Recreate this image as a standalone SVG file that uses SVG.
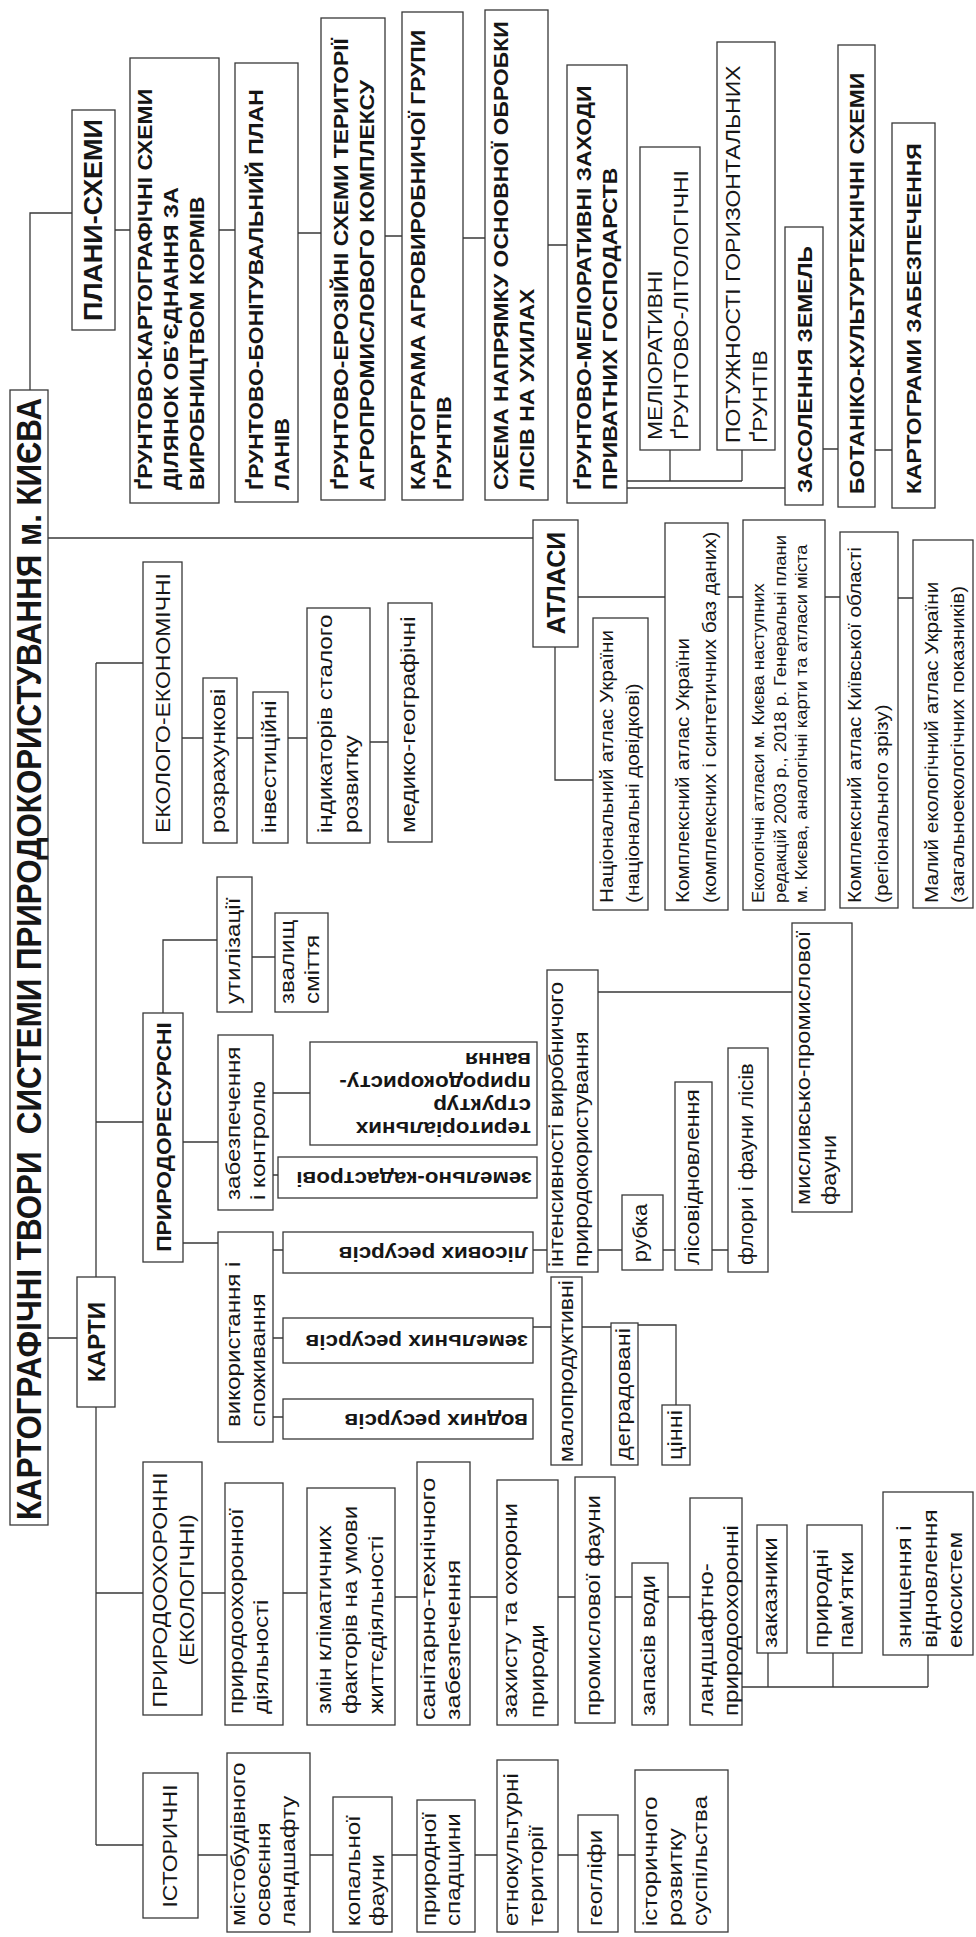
<svg xmlns="http://www.w3.org/2000/svg" width="976" height="1937" viewBox="0 0 976 1937">
<style>
.bx{fill:#fff;stroke:#383838;stroke-width:1.3}
.cn path{fill:none;stroke:#383838;stroke-width:1.3}
text{font-family:"Liberation Sans",Arial,sans-serif;fill:#161616}
.t{font-size:35px;font-weight:bold}
.b{font-size:21px;font-weight:bold}
.u{font-size:20.5px}
.l{font-size:21px}
.s{font-size:18px}
.xs{font-size:16px}
.lb{font-size:20px;font-weight:bold}
.m{text-anchor:middle}
</style>
<rect x="0" y="0" width="976" height="1937" fill="#fff"/>
<g class="cn" id="connectors">
<path d="M30 390V213H72"/>
<path d="M115 230H130M219 230H235M298 233H321M385 236H402M463 238H485M548 245H567"/>
<path d="M627 481H742M670 450V481M742 450V481M627 488H785M823 449H838M875 450H892"/>
<path d="M48 538H533"/>
<path d="M578 597H665M728 597H743M825 597H840M898 598H913M555 647V780H593"/>
<path d="M48 1338H77M96 663V1277M96 1407V1845M96 663H143M96 1122H143M96 1593H143M96 1845H143"/>
<path d="M182 738H203M237 738H253M288 738H307M370 742H388"/>
<path d="M163 1013V940H217M252 957H275M183 1142H218M183 1243H218"/>
<path d="M273 1093H310M273 1175H278M273 1250H283M273 1338H283M273 1417H283"/>
<path d="M533 1250H547M598 992H792M598 1250H622M663 1250H675M712 1250H728"/>
<path d="M533 1327H551M582 1327H611M638 1325H676V1405"/>
<path d="M202 1593H225M283 1593H307M395 1597H417M470 1597H497M558 1597H575M615 1597H632M668 1597H690"/>
<path d="M742 1687H928M768 1653V1687M833 1653V1687M928 1655V1687"/>
<path d="M198 1855H227M310 1855H333M392 1855H417M475 1855H497M558 1855H578M618 1855H635"/>
</g>
<g id="title"><rect class="bx" x="10" y="390" width="38" height="1135"/>
<text class="t" xml:space="preserve" transform="matrix(0,-1,1,0,41,1520)" textLength="1122" lengthAdjust="spacingAndGlyphs">КАРТОГРАФІЧНІ ТВОРИ  СИСТЕМИ ПРИРОДОКОРИСТУВАННЯ м. КИЄВА</text></g>
<g id="plany"><rect class="bx" x="72" y="110" width="43" height="220"/>
<text class="b m" style="font-size:25px" transform="matrix(0,-1.08,1,0,102,220)">ПЛАНИ-СХЕМИ</text></g>
<g id="p1"><rect class="bx" x="130" y="58" width="89" height="445"/>
<text class="b" transform="matrix(0,-1.09,1,0,152,490)">ҐРУНТОВО-КАРТОГРАФІЧНІ СХЕМИ</text>
<text class="b" transform="matrix(0,-1.09,1,0,178,490)">ДІЛЯНОК ОБ’ЄДНАННЯ ЗА</text>
<text class="b" transform="matrix(0,-1.09,1,0,204,490)">ВИРОБНИЦТВОМ КОРМІВ</text></g>
<g id="p2"><rect class="bx" x="235" y="63" width="63" height="439"/>
<text class="b" transform="matrix(0,-1.09,1,0,263,490)">ҐРУНТОВО-БОНІТУВАЛЬНИЙ ПЛАН</text>
<text class="b" transform="matrix(0,-1.09,1,0,289,490)">ЛАНІВ</text></g>
<g id="p3"><rect class="bx" x="321" y="18" width="64" height="482"/>
<text class="b" transform="matrix(0,-1.09,1,0,348,490)">ҐРУНТОВО-ЕРОЗІЙНІ СХЕМИ ТЕРИТОРІЇ</text>
<text class="b" transform="matrix(0,-1.09,1,0,374,490)">АГРОПРОМИСЛОВОГО КОМПЛЕКСУ</text></g>
<g id="p4"><rect class="bx" x="402" y="12" width="61" height="488"/>
<text class="b" transform="matrix(0,-1.09,1,0,425,490)">КАРТОГРАМА АГРОВИРОБНИЧОЇ ГРУПИ</text>
<text class="b" transform="matrix(0,-1.09,1,0,451,490)">ҐРУНТІВ</text></g>
<g id="p5"><rect class="bx" x="485" y="10" width="63" height="490"/>
<text class="b" transform="matrix(0,-1.09,1,0,508,490)">СХЕМА НАПРЯМКУ ОСНОВНОЇ ОБРОБКИ</text>
<text class="b" transform="matrix(0,-1.09,1,0,534,490)">ЛІСІВ НА УХИЛАХ</text></g>
<g id="p6"><rect class="bx" x="567" y="65" width="60" height="438"/>
<text class="b" transform="matrix(0,-1.09,1,0,591,490)">ҐРУНТОВО-МЕЛІОРАТИВНІ ЗАХОДИ</text>
<text class="b" transform="matrix(0,-1.09,1,0,617,490)">ПРИВАТНИХ ГОСПОДАРСТВ</text></g>
<g id="p7"><rect class="bx" x="640" y="147" width="60" height="303"/>
<text class="u" transform="matrix(0,-1.12,1,0,662,440)">МЕЛІОРАТИВНІ</text>
<text class="u" transform="matrix(0,-1.12,1,0,688,440)">ҐРУНТОВО-ЛІТОЛОГІЧНІ</text></g>
<g id="p8"><rect class="bx" x="717" y="42" width="58" height="408"/>
<text class="u" transform="matrix(0,-1.12,1,0,740,443)">ПОТУЖНОСТІ ГОРИЗОНТАЛЬНИХ</text>
<text class="u" transform="matrix(0,-1.12,1,0,767,443)">ҐРУНТІВ</text></g>
<g id="p9"><rect class="bx" x="785" y="227" width="38" height="278"/>
<text class="b" transform="matrix(0,-1.09,1,0,812,493)">ЗАСОЛЕННЯ ЗЕМЕЛЬ</text></g>
<g id="p10"><rect class="bx" x="838" y="45" width="37" height="462"/>
<text class="b" transform="matrix(0,-1.09,1,0,864,494)">БОТАНІКО-КУЛЬТУРТЕХНІЧНІ СХЕМИ</text></g>
<g id="p11"><rect class="bx" x="892" y="123" width="43" height="385"/>
<text class="b" transform="matrix(0,-1.09,1,0,921,494)">КАРТОГРАМИ ЗАБЕЗПЕЧЕННЯ</text></g>
<g id="atlasy"><rect class="bx" x="533" y="520" width="45" height="127"/>
<text class="b m" style="font-size:25px" transform="matrix(0,-1,1,0,565,583)">АТЛАСИ</text></g>
<g id="a1"><rect class="bx" x="593" y="618" width="55" height="292"/>
<text class="s" transform="matrix(0,-1.15,1,0,613,903)">Національний атлас України</text>
<text class="s" transform="matrix(0,-1.15,1,0,639,903)">(національні довідкові)</text></g>
<g id="a2"><rect class="bx" x="665" y="523" width="63" height="387"/>
<text class="s" transform="matrix(0,-1.15,1,0,689,903)">Комплексний атлас України</text>
<text class="s" transform="matrix(0,-1.15,1,0,716,903)">(комплексних і синтетичних баз даних)</text></g>
<g id="a3"><rect class="bx" x="743" y="520" width="82" height="390"/>
<text class="xs" transform="matrix(0,-1.15,1,0,764,903)">Екологічні атласи м. Києва наступних</text>
<text class="xs" transform="matrix(0,-1.15,1,0,786,903)">редакцій 2003 р., 2018 р. Генеральні плани</text>
<text class="xs" transform="matrix(0,-1.15,1,0,807,903)">м. Києва, аналогічні карти та атласи міста</text></g>
<g id="a4"><rect class="bx" x="840" y="532" width="58" height="376"/>
<text class="s" transform="matrix(0,-1.15,1,0,861,903)">Комплексний атлас Київської області</text>
<text class="s" transform="matrix(0,-1.15,1,0,888,903)">(регіонального зрізу)</text></g>
<g id="a5"><rect class="bx" x="913" y="540" width="60" height="368"/>
<text class="s" transform="matrix(0,-1.15,1,0,938,903)">Малий екологічний атлас України</text>
<text class="s" transform="matrix(0,-1.15,1,0,964,903)">(загальноекологічних показників)</text></g>
<g id="karty"><rect class="bx" x="77" y="1277" width="38" height="130"/>
<text class="b m" style="font-size:23px" transform="matrix(0,-1.05,1,0,105,1342)">КАРТИ</text></g>
<g id="ekoek"><rect class="bx" x="143" y="562" width="39" height="281"/>
<text class="u m" transform="matrix(0,-1.12,1,0,170,703)">ЕКОЛОГО-ЕКОНОМІЧНІ</text></g>
<g id="e1"><rect class="bx" x="203" y="678" width="34" height="165"/>
<text class="l" transform="matrix(0,-1.15,1,0,225,833)">розрахункові</text></g>
<g id="e2"><rect class="bx" x="253" y="692" width="35" height="151"/>
<text class="l" transform="matrix(0,-1.15,1,0,276,833)">інвестиційні</text></g>
<g id="e3"><rect class="bx" x="307" y="608" width="63" height="235"/>
<text class="l" transform="matrix(0,-1.15,1,0,332,833)">індикаторів сталого</text>
<text class="l" transform="matrix(0,-1.15,1,0,358,833)">розвитку</text></g>
<g id="e4"><rect class="bx" x="388" y="603" width="44" height="239"/>
<text class="l" transform="matrix(0,-1.15,1,0,415,833)">медико-географічні</text></g>
<g id="prres"><rect class="bx" x="143" y="1013" width="40" height="249"/>
<text class="b m" transform="matrix(0,-1.09,1,0,171,1137)">ПРИРОДОРЕСУРСНІ</text></g>
<g id="r1"><rect class="bx" x="217" y="877" width="35" height="135"/>
<text class="l" transform="matrix(0,-1.15,1,0,240,1004)">утилізації</text></g>
<g id="r2"><rect class="bx" x="275" y="913" width="53" height="99"/>
<text class="l" transform="matrix(0,-1.15,1,0,294,1004)">звалищ</text>
<text class="l" transform="matrix(0,-1.15,1,0,319,1004)">сміття</text></g>
<g id="r3"><rect class="bx" x="218" y="1035" width="55" height="175"/>
<text class="l" transform="matrix(0,-1.15,1,0,240,1200)">забезпечення</text>
<text class="l" transform="matrix(0,-1.15,1,0,265,1200)">і контролю</text></g>
<g id="r4"><rect class="bx" x="218" y="1232" width="55" height="210"/>
<text class="l" transform="matrix(0,-1.15,1,0,240,1427)">використання і</text>
<text class="l" transform="matrix(0,-1.15,1,0,265,1427)">споживання</text></g>
<g id="r5"><rect class="bx" x="310" y="1042" width="227" height="103"/>
<text class="lb" transform="matrix(-1.12,0,0,-1,531,1122)">територіальних</text>
<text class="lb" transform="matrix(-1.12,0,0,-1,531,1099)">структур</text>
<text class="lb" transform="matrix(-1.12,0,0,-1,531,1076)">природокористу-</text>
<text class="lb" transform="matrix(-1.12,0,0,-1,531,1053)">вання</text></g>
<g id="r6"><rect class="bx" x="278" y="1157" width="259" height="41"/>
<text class="lb" transform="matrix(-1.12,0,0,-1,532,1172)">земельно-кадастрові</text></g>
<g id="r7"><rect class="bx" x="283" y="1232" width="250" height="41"/>
<text class="lb" transform="matrix(-1.12,0,0,-1,528,1247)">лісових ресурсів</text></g>
<g id="r8"><rect class="bx" x="283" y="1318" width="250" height="45"/>
<text class="lb" transform="matrix(-1.12,0,0,-1,528,1335)">земельних ресурсів</text></g>
<g id="r9"><rect class="bx" x="283" y="1399" width="250" height="40"/>
<text class="lb" transform="matrix(-1.12,0,0,-1,528,1414)">водних ресурсів</text></g>
<g id="r10"><rect class="bx" x="547" y="970" width="51" height="302"/>
<text class="l" transform="matrix(0,-1.1,1,0,563,1267)">інтенсивності виробничого</text>
<text class="l" transform="matrix(0,-1.1,1,0,588,1267)">природокористування</text></g>
<g id="r11"><rect class="bx" x="622" y="1195" width="41" height="75"/>
<text class="l m" transform="matrix(0,-1.05,1,0,647,1233)">рубка</text></g>
<g id="r12"><rect class="bx" x="675" y="1082" width="37" height="188"/>
<text class="l" transform="matrix(0,-1.1,1,0,699,1265)">лісовідновлення</text></g>
<g id="r13"><rect class="bx" x="728" y="1048" width="40" height="224"/>
<text class="l" transform="matrix(0,-1.05,1,0,753,1265)">флори і фауни лісів</text></g>
<g id="r14"><rect class="bx" x="792" y="923" width="60" height="289"/>
<text class="l" transform="matrix(0,-1.12,1,0,810,1205)">мисливсько-промислової</text>
<text class="l" transform="matrix(0,-1.12,1,0,836,1205)">фауни</text></g>
<g id="r15"><rect class="bx" x="551" y="1277" width="31" height="188"/>
<text class="l m" transform="matrix(0,-1.1,1,0,573,1371)">малопродуктивні</text></g>
<g id="r16"><rect class="bx" x="611" y="1323" width="27" height="142"/>
<text class="l m" transform="matrix(0,-1.12,1,0,630,1394)">деградовані</text></g>
<g id="r17"><rect class="bx" x="662" y="1405" width="28" height="60"/>
<text class="l m" transform="matrix(0,-1.12,1,0,682,1435)">цінні</text></g>
<g id="prohor"><rect class="bx" x="143" y="1462" width="59" height="253"/>
<text class="u m" transform="matrix(0,-1.12,1,0,167,1590)">ПРИРОДООХОРОННІ</text>
<text class="u m" transform="matrix(0,-1.12,1,0,194,1590)">(ЕКОЛОГІЧНІ)</text></g>
<g id="o1"><rect class="bx" x="225" y="1483" width="58" height="242"/>
<text class="l" transform="matrix(0,-1.15,1,0,243,1714)">природоохоронної</text>
<text class="l" transform="matrix(0,-1.15,1,0,268,1714)">діяльності</text></g>
<g id="o2"><rect class="bx" x="307" y="1488" width="88" height="237"/>
<text class="l" transform="matrix(0,-1.15,1,0,331,1714)">змін кліматичних</text>
<text class="l" transform="matrix(0,-1.15,1,0,357,1714)">факторів на умови</text>
<text class="l" transform="matrix(0,-1.15,1,0,383,1714)">життєдіяльності</text></g>
<g id="o3"><rect class="bx" x="417" y="1462" width="53" height="263"/>
<text class="l" transform="matrix(0,-1.2,1,0,435,1720)">санітарно-технічного</text>
<text class="l" transform="matrix(0,-1.2,1,0,460,1720)">забезпечення</text></g>
<g id="o4"><rect class="bx" x="497" y="1480" width="61" height="245"/>
<text class="l" transform="matrix(0,-1.15,1,0,517,1718)">захисту та охорони</text>
<text class="l" transform="matrix(0,-1.15,1,0,544,1718)">природи</text></g>
<g id="o5"><rect class="bx" x="575" y="1477" width="40" height="246"/>
<text class="l" transform="matrix(0,-1.15,1,0,600,1716)">промислової фауни</text></g>
<g id="o6"><rect class="bx" x="632" y="1563" width="36" height="162"/>
<text class="l" transform="matrix(0,-1.15,1,0,655,1716)">запасів води</text></g>
<g id="o7"><rect class="bx" x="690" y="1498" width="52" height="227"/>
<text class="l" transform="matrix(0,-1.15,1,0,713,1716)">ландшафтно-</text>
<text class="l" transform="matrix(0,-1.15,1,0,738,1716)">природоохоронні</text></g>
<g id="o8"><rect class="bx" x="757" y="1525" width="30" height="128"/>
<text class="l" transform="matrix(0,-1.15,1,0,777,1648)">заказники</text></g>
<g id="o9"><rect class="bx" x="807" y="1525" width="55" height="128"/>
<text class="l" transform="matrix(0,-1.15,1,0,828,1648)">природні</text>
<text class="l" transform="matrix(0,-1.15,1,0,853,1648)">пам’ятки</text></g>
<g id="o10"><rect class="bx" x="883" y="1492" width="90" height="163"/>
<text class="l" transform="matrix(0,-1.15,1,0,911,1648)">знищення і</text>
<text class="l" transform="matrix(0,-1.15,1,0,937,1648)">відновлення</text>
<text class="l" transform="matrix(0,-1.15,1,0,962,1648)">екосистем</text></g>
<g id="istor"><rect class="bx" x="143" y="1773" width="55" height="145"/>
<text class="u m" transform="matrix(0,-1.12,1,0,177,1846)">ІСТОРИЧНІ</text></g>
<g id="h1"><rect class="bx" x="227" y="1753" width="83" height="179"/>
<text class="l" transform="matrix(0,-1.15,1,0,245,1926)">містобудівного</text>
<text class="l" transform="matrix(0,-1.15,1,0,270,1926)">освоєння</text>
<text class="l" transform="matrix(0,-1.15,1,0,295,1926)">ландшафту</text></g>
<g id="h2"><rect class="bx" x="333" y="1797" width="59" height="135"/>
<text class="l" transform="matrix(0,-1.15,1,0,360,1926)">копальної</text>
<text class="l" transform="matrix(0,-1.15,1,0,384,1926)">фауни</text></g>
<g id="h3"><rect class="bx" x="417" y="1800" width="58" height="132"/>
<text class="l" transform="matrix(0,-1.15,1,0,436,1926)">природної</text>
<text class="l" transform="matrix(0,-1.15,1,0,460,1926)">спадщини</text></g>
<g id="h4"><rect class="bx" x="497" y="1760" width="61" height="172"/>
<text class="l" transform="matrix(0,-1.15,1,0,518,1926)">етнокультурні</text>
<text class="l" transform="matrix(0,-1.15,1,0,543,1926)">території</text></g>
<g id="h5"><rect class="bx" x="578" y="1815" width="40" height="117"/>
<text class="l" transform="matrix(0,-1.15,1,0,602,1926)">геогліфи</text></g>
<g id="h6"><rect class="bx" x="635" y="1770" width="93" height="162"/>
<text class="l" transform="matrix(0,-1.15,1,0,657,1926)">історичного</text>
<text class="l" transform="matrix(0,-1.15,1,0,682,1926)">розвитку</text>
<text class="l" transform="matrix(0,-1.15,1,0,707,1926)">суспільства</text></g>
</svg>
